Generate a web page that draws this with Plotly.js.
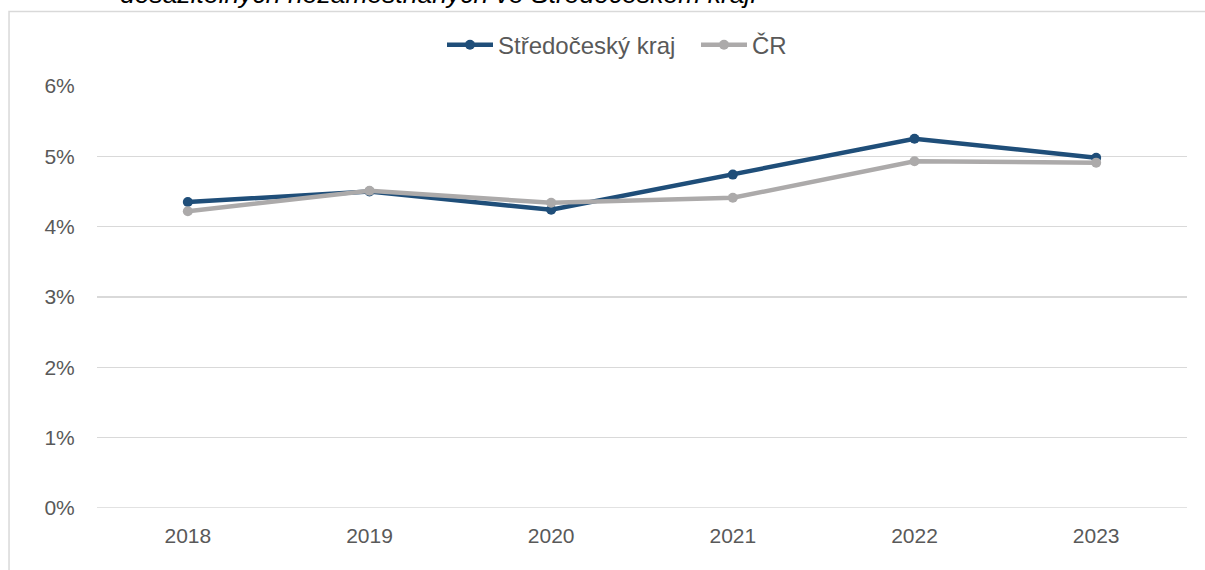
<!DOCTYPE html>
<html>
<head>
<meta charset="utf-8">
<script src="https://cdn.plot.ly/plotly-3.0.1.min.js"></script>
<style>html,body{margin:0;padding:0;background:#fff;}#chart{width:1205px;height:570px;}</style>
</head>
<body>
<div id="chart"></div>
<script>
const years = ["2018", "2019", "2020", "2021", "2022", "2023"];
const stredocesky = [0.0435, 0.0450, 0.0424, 0.0474, 0.0525, 0.0498];
const cr = [0.0422, 0.0451, 0.0434, 0.0441, 0.0493, 0.0491];
const seriesNames = ["Středočeský kraj", "ČR"];
const titleText = "dosažitelných nezaměstnaných ve Středočeském kraji";
const yTicks = [0, 0.01, 0.02, 0.03, 0.04, 0.05, 0.06];

const tickFont = {family: "'Liberation Sans', Arial, sans-serif", size: 21, color: "#595959"};

const traces = [
  {x: years, y: stredocesky, name: seriesNames[0], type: "scatter", mode: "lines+markers",
   line: {color: "#1F4E79", width: 4.5}, marker: {color: "#1F4E79", size: 10}},
  {x: years, y: cr, name: seriesNames[1], type: "scatter", mode: "lines+markers",
   line: {color: "#ACAAAA", width: 4.5}, marker: {color: "#ACAAAA", size: 10}}
];

const layout = {
  width: 1205, height: 570,
  margin: {l: 97, r: 18, t: 86, b: 62},
  paper_bgcolor: "#fff", plot_bgcolor: "#fff",
  showlegend: true,
  legend: {orientation: "h", x: (696 - 97) / 1090, xanchor: "center", y: 1.097, yanchor: "middle",
    font: {family: "'Liberation Sans', Arial, sans-serif", size: 24, color: "#595959"},
    itemwidth: 46, tracegroupgap: 0, entrywidth: 193, entrywidthmode: "pixels"},
  xaxis: {type: "category", range: [-0.5, 5.5], showgrid: false, zeroline: false, showline: false,
    ticks: "outside", ticklen: 9, tickcolor: "rgba(0,0,0,0)", tickfont: tickFont, fixedrange: true},
  yaxis: {range: [0, 0.06], tickvals: yTicks, tickformat: ".0%", showgrid: true, gridcolor: "#D9D9D9", gridwidth: 1.5,
    zeroline: false, showline: false, ticks: "outside", ticklen: 17, tickcolor: "rgba(0,0,0,0)",
    tickfont: tickFont, fixedrange: true},
  shapes: [
    {type: "line", xref: "paper", yref: "y", x0: 0, x1: 1, y0: 0, y1: 0, line: {color: "#D9D9D9", width: 1.5}, layer: "below"},
    {type: "rect", xref: "paper", yref: "paper", x0: -0.0807, x1: 1.0174, y0: -0.3, y1: 1.1765,
     line: {color: "#D9D9D9", width: 1.5}, fillcolor: "rgba(0,0,0,0)", layer: "below"}
  ],
  annotations: [
    {text: "<i>" + titleText + "</i>", xref: "paper", yref: "paper", x: (438 - 97) / 1090, xanchor: "center",
     y: (508 - 11) / 422, yanchor: "bottom", showarrow: false,
     font: {family: "'Liberation Sans', Arial, sans-serif", size: 26.5, color: "#000"}}
  ]
};

Plotly.newPlot("chart", traces, layout, {displayModeBar: false, staticPlot: true});
</script>
</body>
</html>
